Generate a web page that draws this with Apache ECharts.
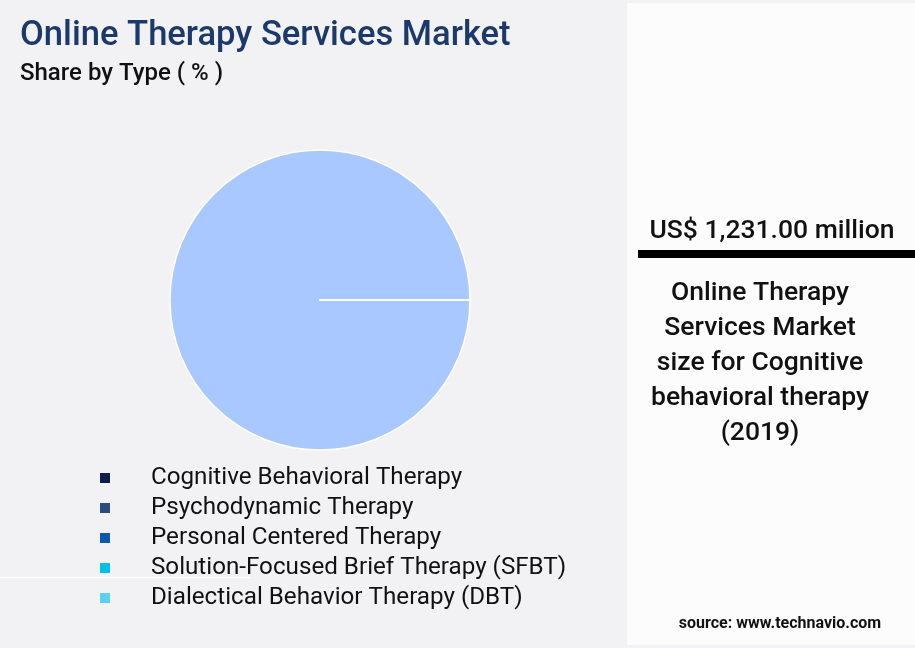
<!DOCTYPE html>
<html><head><meta charset="utf-8">
<script src="https://cdn.jsdelivr.net/npm/echarts@6/dist/echarts.min.js"></script>
<style>html,body{margin:0;padding:0;background:#f2f2f4;}#c{width:915px;height:648px;}</style>
</head><body><div id="c"></div>
<script>
const categories = ["Cognitive Behavioral Therapy","Psychodynamic Therapy","Personal Centered Therapy","Solution-Focused Brief Therapy (SFBT)","Dialectical Behavior Therapy (DBT)"];
const shares = [100, 0, 0, 0, 0];
const legendColors = ["#0b1f4b","#2d4a80","#0a58b0","#00c0e4","#5bd0f0"];
const sliceColors = ["#a8c8ff","#a8c8ff","#a8c8ff","#a8c8ff","#a8c8ff"];
const headline = "US$ 1,231.00 million";
const panelText = "Online Therapy\nServices Market\nsize for Cognitive\nbehavioral therapy\n(2019)";

const chart = echarts.init(document.getElementById('c'));
const F = 'Roboto, "Noto Sans", sans-serif';
chart.setOption({
  backgroundColor: '#f2f2f4',
  animation: false,
  title: [
    {text: 'Online Therapy Services Market', left: 20, top: 19, padding: 0,
     textStyle: {fontFamily: F, fontSize: 34.6, fontWeight: 500, color: '#1b3a6b'}},
    {text: 'Share by Type ( % )', left: 20, top: 62, padding: 0,
     textStyle: {fontFamily: F, fontSize: 24, fontWeight: 500, color: '#111'}}
  ],
  legend: {
    orient: 'vertical', left: 100, top: 466, padding: 0,
    itemWidth: 10, itemHeight: 10, itemGap: 6, icon: 'rect',
    selectedMode: false,
    textStyle: {fontFamily: F, fontSize: 24.2, color: '#111', padding: [0,0,0,36], lineHeight: 24},
    data: categories.map((n,i)=>({name:n, itemStyle:{color: legendColors[i], borderWidth: 0}}))
  },
  graphic: [
    {type:'rect', shape:{x:627,y:3,width:288,height:642}, style:{fill:'#fcfcfc'}, z:-1},
    {type:'rect', shape:{x:0,y:577,width:250,height:1}, style:{fill:'#ffffff'}},
    {type:'text', x:772, y:231, style:{text: headline, fontFamily:F, fontSize:26.5, fontWeight:500, fill:'#111', align:'center', verticalAlign:'middle'}},
    {type:'rect', shape:{x:638,y:250,width:277,height:8}, style:{fill:'#000'}},
    {type:'text', x:760, y:275.5, style:{text: panelText, fontFamily:F, fontSize:26.5, fontWeight:500, fill:'#111', align:'center', verticalAlign:'top', lineHeight:35}},
    {type:'text', x:780, y:624, style:{text:'source: www.technavio.com', fontFamily:F, fontSize:16, fontWeight:'bold', fill:'#111', align:'center', verticalAlign:'middle'}}
  ],
  series: [{
    type: 'pie', center: [320, 300], radius: [0, 150], startAngle: 0,
    label: {show:false}, labelLine:{show:false},
    emphasis: {disabled: true},
    itemStyle: {borderColor: '#ffffff', borderWidth: 1.5},
    data: categories.map((n,i)=>({name:n, value: shares[i], itemStyle:{color: sliceColors[i]}}))
  }]
});
</script></body></html>
